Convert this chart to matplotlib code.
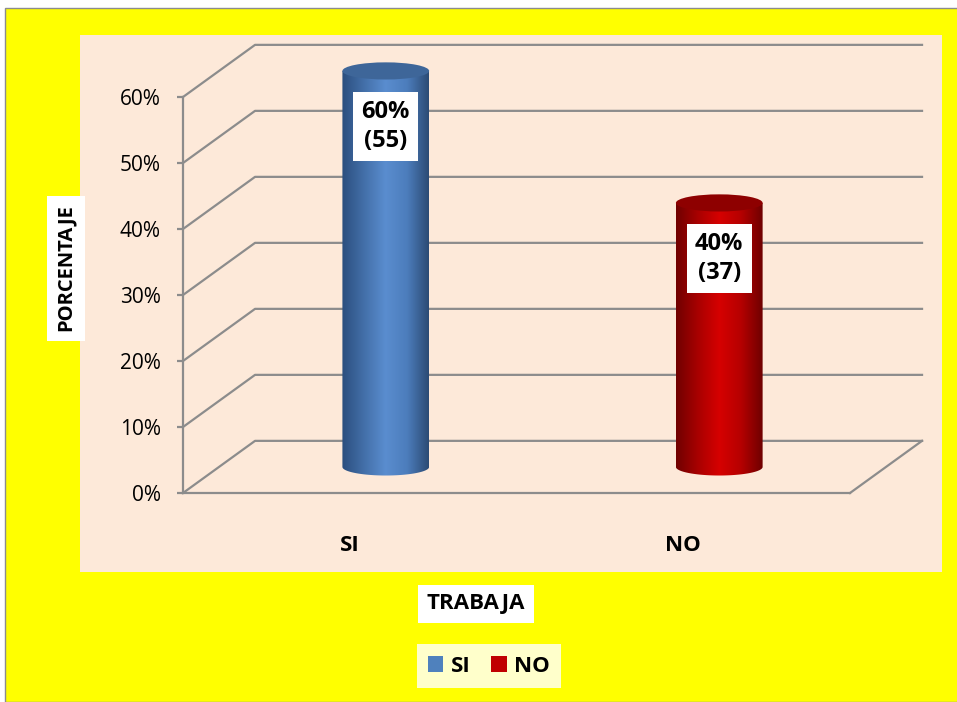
import numpy as np
import matplotlib
matplotlib.use('Agg')
import matplotlib.pyplot as plt
from matplotlib.patches import Rectangle, Ellipse, Patch, Polygon
from matplotlib.colors import LinearSegmentedColormap
from matplotlib.ticker import PercentFormatter

# data
categories = ['SI', 'NO']
percent = [60, 40]
counts = [55, 37]
yticks = [0, 10, 20, 30, 40, 50, 60]

legend_colors = ['#4F81BD', '#C00000']
body_colors = [
    ['#2B4E7E', '#436FA8', '#5A8DCF', '#4C7DBC', '#2C4B74'],
    ['#700000', '#A80000', '#D60000', '#B50000', '#6E0000'],
]
top_colors = ['#3E6699', '#8E0000']

plt.rcParams['font.family'] = ['Open Sans', 'DejaVu Sans']

W, H = 957, 702
fig = plt.figure(figsize=(W / 100, H / 100), dpi=100)
fig.patch.set_facecolor('white')

# yellow chart area and peach plot area
fig.add_artist(Rectangle((5 / W, 0), 1, (H - 8) / H, transform=fig.transFigure,
                         fc='#FFFF00', ec='#8C8C8C', lw=1, zorder=-3))
fig.add_artist(Rectangle((80 / W, (H - 572) / H), 862 / W, 537 / H,
                         transform=fig.transFigure, fc='#FDE9D9', ec='none', zorder=-2))

ax = fig.add_axes([183 / W, 209 / H, 667 / W, 396 / H])
ax.patch.set_visible(False)

gc = '#8C8C8C'
DX, DY = 0.216, 7.9  # depth of the fake 3d box, data units

# walls: gridlines running back then across
for v in yticks:
    ax.plot([-0.5, -0.5 + DX, 1.5 + DX], [v, v + DY, v + DY],
            color=gc, lw=1.6, clip_on=False, zorder=1)
ax.plot([1.5, 1.5 + DX], [0, DY], color=gc, lw=1.6, clip_on=False, zorder=1)

# cylinders
w, eh = 0.26, 2.6
grad = np.linspace(0, 1, 256).reshape(1, -1)
for i, (val, n) in enumerate(zip(percent, counts)):
    cmap = LinearSegmentedColormap.from_list('c%d' % i, body_colors[i])
    cx = i + DX / 2
    y0, y1 = DY / 2, val + DY / 2
    t = np.linspace(np.pi, 2 * np.pi, 80)
    verts = list(zip(cx + w / 2 * np.cos(t), y0 + eh / 2 * np.sin(t)))
    verts += [(cx + w / 2, y1), (cx - w / 2, y1)]
    poly = Polygon(verts, closed=True, fc='none', ec='none', clip_on=False)
    ax.add_patch(poly)
    im = ax.imshow(grad, extent=[cx - w / 2, cx + w / 2, y0 - eh / 2, y1],
                   aspect='auto', cmap=cmap, zorder=2, interpolation='bilinear')
    im.set_clip_path(poly)
    im.set_clip_box(fig.bbox)
    ax.add_patch(Ellipse((cx, y1), w, eh, fc=top_colors[i], ec='none',
                         zorder=3, clip_on=False))
    ax.annotate('%d%%\n(%d)' % (val, n), xy=(cx, y1), xytext=(0, -40),
                textcoords='offset points', ha='center', va='center',
                fontsize=17, fontweight='bold', linespacing=1.25, zorder=4,
                annotation_clip=False,
                bbox=dict(boxstyle='square,pad=0.35', fc='white', ec='none'))

ax.set_xlim(-0.5, 1.5)
ax.set_ylim(0, 60)
ax.set_yticks(yticks)
ax.yaxis.set_major_formatter(PercentFormatter(100, decimals=0))
ax.set_xticks(range(len(categories)))
ax.set_xticklabels(categories, fontweight='bold')

for s in ['top', 'right']:
    ax.spines[s].set_visible(False)
for s in ['left', 'bottom']:
    ax.spines[s].set_color(gc)
    ax.spines[s].set_linewidth(1.6)
ax.tick_params(axis='y', direction='out', length=4, width=1.6, color=gc,
               labelsize=15, pad=12)
ax.tick_params(axis='x', length=0, labelsize=16, pad=30)

fig.text(66 / W, 1 - 268 / H, 'PORCENTAJE', rotation=90, ha='center', va='center',
         fontsize=14.5, fontweight='bold',
         bbox=dict(boxstyle='square,pad=0.45', fc='white', ec='none'))
fig.text(476 / W, 1 - 604 / H, 'TRABAJA', ha='center', va='center',
         fontsize=16, fontweight='bold',
         bbox=dict(boxstyle='square,pad=0.4', fc='white', ec='none'))

handles = [Patch(fc=c, ec='none') for c in legend_colors]
leg = fig.legend(handles, categories, loc='center', bbox_to_anchor=(489 / W, 1 - 666 / H),
                 ncol=2, frameon=True, fancybox=False, edgecolor='none',
                 prop={'weight': 'bold', 'size': 16}, handlelength=0.7,
                 handleheight=0.7, columnspacing=0.9, handletextpad=0.35,
                 borderpad=0.5)
leg.get_frame().set_facecolor('white')

fig.savefig('out.png', dpi=100)
